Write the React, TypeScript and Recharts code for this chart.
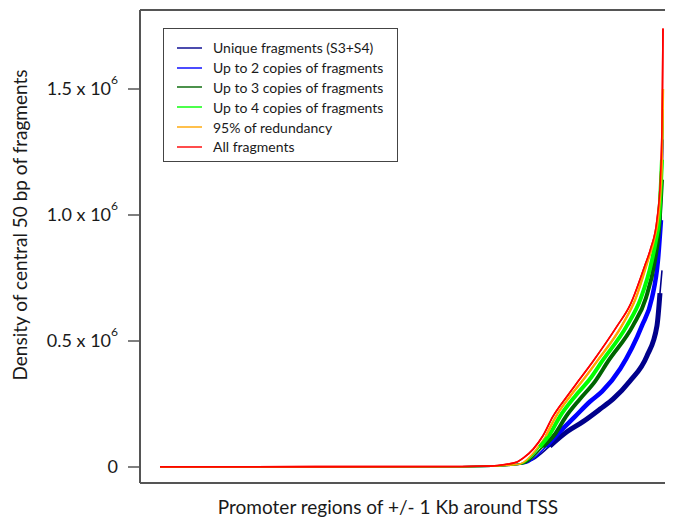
import React from 'react';
import { LineChart, Line, XAxis, YAxis, ReferenceLine } from 'recharts';

// values in millions (x 10^6); x = position across promoter window (0..100)
const UNIQUE = [
  { x: 0, v: 0 }, { x: 60, v: 0.001 }, { x: 66, v: 0.003 }, { x: 69.6, v: 0.008 }, { x: 72, v: 0.014 },
  { x: 74.2, v: 0.03 }, { x: 77.5, v: 0.083 }, { x: 80.9, v: 0.14 }, { x: 84.1, v: 0.18 }, { x: 87.5, v: 0.23 },
  { x: 90.1, v: 0.27 }, { x: 93.4, v: 0.34 }, { x: 96.8, v: 0.44 }, { x: 98.8, v: 0.56 }, { x: 99.4, v: 0.69 },
  { x: 99.8, v: 0.78 },
];
const UPTO2 = [
  { x: 0, v: 0 }, { x: 60, v: 0.001 }, { x: 66, v: 0.003 }, { x: 70, v: 0.008 }, { x: 72.8, v: 0.015 },
  { x: 76.7, v: 0.08 }, { x: 79.5, v: 0.14 }, { x: 82.5, v: 0.2 }, { x: 85.5, v: 0.26 }, { x: 87.9, v: 0.3 },
  { x: 91.5, v: 0.39 }, { x: 95.8, v: 0.56 }, { x: 97.8, v: 0.67 }, { x: 99.0, v: 0.82 }, { x: 99.6, v: 0.98 },
  { x: 100, v: 1.3 },
];
const UPTO3 = [
  { x: 0, v: 0 }, { x: 60, v: 0.001 }, { x: 66, v: 0.003 }, { x: 70, v: 0.008 }, { x: 72.4, v: 0.014 },
  { x: 76.1, v: 0.08 }, { x: 78.5, v: 0.13 }, { x: 80.7, v: 0.2 }, { x: 83.5, v: 0.27 }, { x: 86.5, v: 0.34 },
  { x: 89.1, v: 0.42 }, { x: 94.0, v: 0.56 }, { x: 96.6, v: 0.67 }, { x: 98.4, v: 0.82 }, { x: 99.2, v: 0.94 },
  { x: 99.8, v: 1.14 }, { x: 100, v: 1.42 },
];
const UPTO4 = [
  { x: 0, v: 0 }, { x: 60, v: 0.001 }, { x: 66, v: 0.003 }, { x: 70, v: 0.008 }, { x: 72, v: 0.014 },
  { x: 75.5, v: 0.08 }, { x: 77.5, v: 0.13 }, { x: 79.5, v: 0.2 }, { x: 82.5, v: 0.28 }, { x: 85.5, v: 0.35 },
  { x: 87.9, v: 0.42 }, { x: 92.8, v: 0.56 }, { x: 95.6, v: 0.67 }, { x: 97.8, v: 0.82 }, { x: 98.6, v: 0.9 },
  { x: 99.2, v: 0.98 }, { x: 99.8, v: 1.22 }, { x: 100, v: 1.38 },
];
const RED95 = [
  { x: 0, v: 0 }, { x: 60, v: 0.001 }, { x: 66, v: 0.003 }, { x: 70, v: 0.008 }, { x: 71.6, v: 0.012 },
  { x: 74.8, v: 0.07 }, { x: 76.7, v: 0.123 }, { x: 78.7, v: 0.2 }, { x: 81.5, v: 0.28 }, { x: 84.3, v: 0.35 },
  { x: 86.9, v: 0.42 }, { x: 91.8, v: 0.56 }, { x: 94.6, v: 0.67 }, { x: 97.0, v: 0.82 }, { x: 98.2, v: 0.9 },
  { x: 99.2, v: 1.02 }, { x: 99.8, v: 1.22 }, { x: 100, v: 1.5 },
];
const ALL = [
  { x: 0, v: 0.001 }, { x: 60, v: 0.002 }, { x: 66, v: 0.004 }, { x: 68.6, v: 0.01 }, { x: 71, v: 0.02 },
  { x: 72.2, v: 0.035 }, { x: 74.2, v: 0.071 }, { x: 76.1, v: 0.123 }, { x: 78.1, v: 0.2 }, { x: 80.9, v: 0.28 },
  { x: 83.5, v: 0.35 }, { x: 86.1, v: 0.42 }, { x: 90.9, v: 0.56 }, { x: 93.4, v: 0.64 }, { x: 96.4, v: 0.8 },
  { x: 97.6, v: 0.87 }, { x: 98.8, v: 0.98 }, { x: 99.5, v: 1.15 }, { x: 99.8, v: 1.35 }, { x: 99.9, v: 1.51 },
  { x: 100, v: 1.74 },
];

const Y_TICKS = [0, 0.5, 1.0, 1.5];
const Y_TICK_LABELS = ['0', '0.5 x 10', '1.0 x 10', '1.5 x 10'];

const SERIES = [
  { name: 'Unique fragments (S3+S4)', data: UNIQUE, color: '#00008B', band: 5, bandFrom: 75, bandTo: 99.4 },
  { name: 'Up to 2 copies of fragments', data: UPTO2, color: '#0000FF', band: 4.5, bandFrom: 76, bandTo: 99.6 },
  { name: 'Up to 3 copies of fragments', data: UPTO3, color: '#006400', band: 4, bandFrom: 76, bandTo: 99.8 },
  { name: 'Up to 4 copies of fragments', data: UPTO4, color: '#00FF00', band: 4, bandFrom: 75, bandTo: 99.8 },
  { name: '95% of redundancy', data: RED95, color: '#FFA500', band: 2.4, bandFrom: 75, bandTo: 100 },
  { name: 'All fragments', data: ALL, color: '#FF0000', band: 0, bandFrom: 100, bandTo: 100 },
];

const FONT = 'Lato, "Open Sans", sans-serif';
const TXT = '#1a1a1a';
const Y_DOMAIN: [number, number] = [-0.0635, 1.8135];
const X_DOMAIN: [number, number] = [-3.976, 101.99];

const YTick = (props: any) => {
  const { x, y, payload } = props;
  const i = Y_TICKS.indexOf(payload.value);
  const label = Y_TICK_LABELS[i] ?? String(payload.value);
  return (
    <text x={x} y={y + 6} textAnchor="end" fontSize={18} fill={TXT} fontFamily={FONT}>
      {payload.value === 0 ? (
        label
      ) : (
        <>
          <tspan>{label}</tspan>
          <tspan dy={-11} fontSize={12}>6</tspan>
        </>
      )}
    </text>
  );
};

export default function App() {
  return (
    <div style={{ position: 'relative', width: 665, height: 512, overflow: 'hidden', background: '#fff' }}>
      <LineChart width={665} height={512} margin={{ top: 2, right: 0, bottom: 37, left: 0 }}>
        <XAxis type="number" dataKey="x" domain={X_DOMAIN} allowDataOverflow hide />
        <YAxis
          type="number"
          dataKey="v"
          domain={Y_DOMAIN}
          allowDataOverflow
          ticks={Y_TICKS}
          width={132}
          tickSize={12}
          tickMargin={10}
          tick={<YTick />}
          axisLine={{ stroke: '#555', strokeWidth: 2 }}
          tickLine={{ stroke: '#555', strokeWidth: 1.5 }}
        />
        <ReferenceLine y={Y_DOMAIN[1]} stroke="#555" strokeWidth={2} />
        <ReferenceLine y={Y_DOMAIN[0]} stroke="#555" strokeWidth={2} />
        {SERIES.map((s) => (
          <Line
            key={s.name}
            data={s.data}
            dataKey="v"
            type="monotone"
            stroke={s.color}
            strokeWidth={1.6}
            dot={false}
            isAnimationActive={false}
          />
        ))}
        {SERIES.filter((s) => s.band > 0).map((s) => (
          <Line
            key={s.name + '-band'}
            data={s.data.filter((d) => d.x >= s.bandFrom && d.x <= s.bandTo)}
            dataKey="v"
            type="monotone"
            stroke={s.color}
            strokeWidth={s.band}
            strokeLinecap="butt"
            dot={false}
            legendType="none"
            isAnimationActive={false}
          />
        ))}
        {/* keep red on top */}
        <Line
          data={ALL}
          dataKey="v"
          type="monotone"
          stroke="#FF0000"
          strokeWidth={1.6}
          dot={false}
          legendType="none"
          isAnimationActive={false}
        />
      </LineChart>
      <svg width={665} height={512} style={{ position: 'absolute', left: 0, top: 0, pointerEvents: 'none' }}>
        <text
          x={19}
          y={217}
          transform="rotate(-90, 19, 217)"
          textAnchor="middle"
          fontSize={19}
          fill={TXT}
          fontFamily={FONT}
        >
          Density of central 50 bp of fragments
        </text>
        <text x={380} y={506} textAnchor="middle" fontSize={19} fill={TXT} fontFamily={FONT}>
          Promoter regions of +/- 1 Kb around TSS
        </text>
      </svg>
      <div
        style={{
          position: 'absolute',
          left: 155,
          top: 20,
          width: 235,
          height: 134,
          border: '1.5px solid #444',
          background: '#fff',
          boxSizing: 'border-box',
          paddingTop: 9,
          fontFamily: FONT,
          fontSize: 14,
          color: TXT,
        }}
      >
        {SERIES.map((s) => (
          <div key={s.name} style={{ height: 19.8, display: 'flex', alignItems: 'center' }}>
            <div style={{ width: 25, height: 2, background: s.color, marginLeft: 13, opacity: 0.7 }} />
            <span style={{ marginLeft: 11, whiteSpace: 'nowrap' }}>{s.name}</span>
          </div>
        ))}
      </div>
    </div>
  );
}
